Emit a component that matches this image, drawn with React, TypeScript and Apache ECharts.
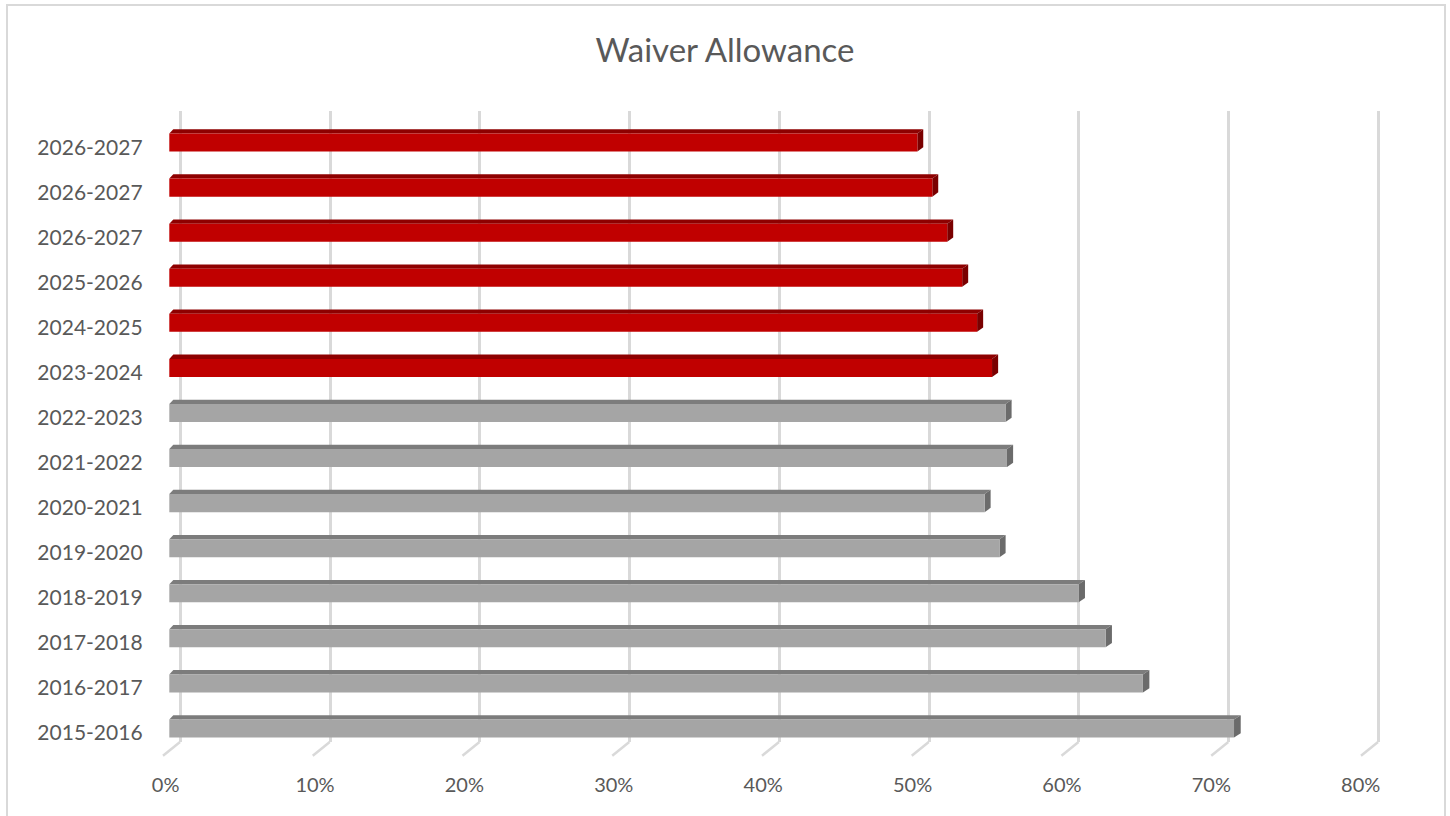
import { useEffect, useRef } from "react";
import * as echarts from "echarts";

// Categories listed bottom → top (as ECharts draws a category y-axis)
const categories = [
  "2015-2016",
  "2016-2017",
  "2017-2018",
  "2018-2019",
  "2019-2020",
  "2020-2021",
  "2021-2022",
  "2022-2023",
  "2023-2024",
  "2024-2025",
  "2025-2026",
  "2026-2027",
  "2026-2027",
  "2026-2027",
];
// Percent values, bottom → top
const historicalValues = [71.2, 65.1, 62.6, 60.8, 55.5, 54.5, 56.0, 55.9];
const projectedValues = [55, 54, 53, 52, 51, 50];
const xTicks = [0, 10, 20, 30, 40, 50, 60, 70, 80];

const FONT = "Lato, 'Open Sans', sans-serif";
const TEXT = "#595959";
const GRID = "#D9D9D9";

function makeBarRenderer(front: string, top: string, end: string) {
  return (params: any, api: any) => {
    const cat = api.value(0);
    const v = api.value(1);
    const p0 = api.coord([0, cat]);
    const p1 = api.coord([v, cat]);
    const band = api.size([0, 1])[1];
    const c = p0[1];
    const bl = p0[0] - 6.7;
    const br = p1[0] - 5.5;
    const depth = (x: number) => 4 + (2.7 * (x - bl)) / 1067;
    const fl = bl - depth(bl);
    const fr = br - depth(br);
    const dy = band * 0.095;
    const h = band * 0.4;
    const bt = c - dy;
    const ft = c;
    const fb = c + h;
    const bb = bt + h;
    return {
      type: "group",
      children: [
        {
          type: "polygon",
          shape: { points: [[fl, ft], [bl, bt], [br, bt], [fr, ft]] },
          style: { fill: top },
        },
        {
          type: "polygon",
          shape: { points: [[fr, ft], [br, bt], [br, bb], [fr, fb]] },
          style: { fill: end },
        },
        {
          type: "rect",
          shape: { x: fl, y: ft, width: fr - fl, height: fb - ft },
          style: { fill: front },
        },
      ],
    };
  };
}

export default function App() {
  const ref = useRef<HTMLDivElement>(null);

  useEffect(() => {
    document.body.style.margin = "0";
    if (!ref.current) return;
    const chart = echarts.init(ref.current, undefined, { renderer: "svg" });

    const histData = historicalValues.map((v, i) => [i, v]);
    const projData = projectedValues.map((v, i) => [historicalValues.length + i, v]);

    chart.setOption({
      animation: false,
      backgroundColor: "#ffffff",
      title: {
        text: "Waiver Allowance",
        left: "center",
        top: 27,
        textStyle: { fontFamily: FONT, fontSize: 33, fontWeight: "normal", color: TEXT },
      },
      graphic: [
        {
          type: "rect",
          z: -1,
          shape: { x: 7, y: 5, width: 1438, height: 820 },
          style: { fill: "none", stroke: GRID, lineWidth: 2 },
        },
      ],
      grid: [
        { left: 180, right: 72, top: 111, height: 631 },
        { left: 165.6, right: 89.3, top: 123.5, height: 630 },
      ],
      xAxis: [
        {
          type: "value",
          gridIndex: 0,
          min: 0,
          max: 80,
          interval: 10,
          axisLabel: { show: false },
          axisLine: { show: false },
          axisTick: { show: false },
          splitLine: { show: true, lineStyle: { color: GRID, width: 3 } },
        },
        {
          type: "value",
          gridIndex: 1,
          min: 0,
          max: 80,
          interval: 10,
          axisLabel: {
            formatter: "{value}%",
            fontFamily: FONT,
            fontSize: 20,
            color: TEXT,
            margin: 20,
          },
          axisLine: { show: false },
          axisTick: { show: false },
          splitLine: { show: false },
        },
      ],
      yAxis: [
        {
          type: "category",
          gridIndex: 0,
          data: categories,
          axisLabel: { show: false },
          axisLine: { show: false },
          axisTick: { show: false },
        },
        {
          type: "category",
          gridIndex: 1,
          data: categories,
          axisLabel: { fontFamily: FONT, fontSize: 21, color: TEXT, margin: 23 },
          axisLine: { show: false },
          axisTick: { show: false },
        },
      ],
      series: [
        {
          type: "custom",
          name: "floor ticks",
          xAxisIndex: 0,
          yAxisIndex: 0,
          silent: true,
          z: 1,
          data: xTicks.map((t) => [t]),
          encode: { x: 0 },
          renderItem: (params: any, api: any) => {
            const x = api.coord([api.value(0), 0])[0];
            const cs = params.coordSys;
            const yb = cs.y + cs.height;
            return {
              type: "line",
              shape: { x1: x, y1: yb, x2: x - 17, y2: yb + 13.7 },
              style: { stroke: GRID, lineWidth: 2.5 },
            };
          },
        },
        {
          type: "custom",
          name: "Historical",
          xAxisIndex: 0,
          yAxisIndex: 0,
          z: 3,
          data: histData,
          encode: { x: 1, y: 0 },
          renderItem: makeBarRenderer("#A5A5A5", "#7C7C7C", "#6B6B6B"),
        },
        {
          type: "custom",
          name: "Projected",
          xAxisIndex: 0,
          yAxisIndex: 0,
          z: 3,
          data: projData,
          encode: { x: 1, y: 0 },
          renderItem: makeBarRenderer("#C00000", "#8E0000", "#7A0000"),
        },
      ],
    });

    return () => chart.dispose();
  }, []);

  return <div ref={ref} style={{ width: 1450, height: 816 }} />;
}
